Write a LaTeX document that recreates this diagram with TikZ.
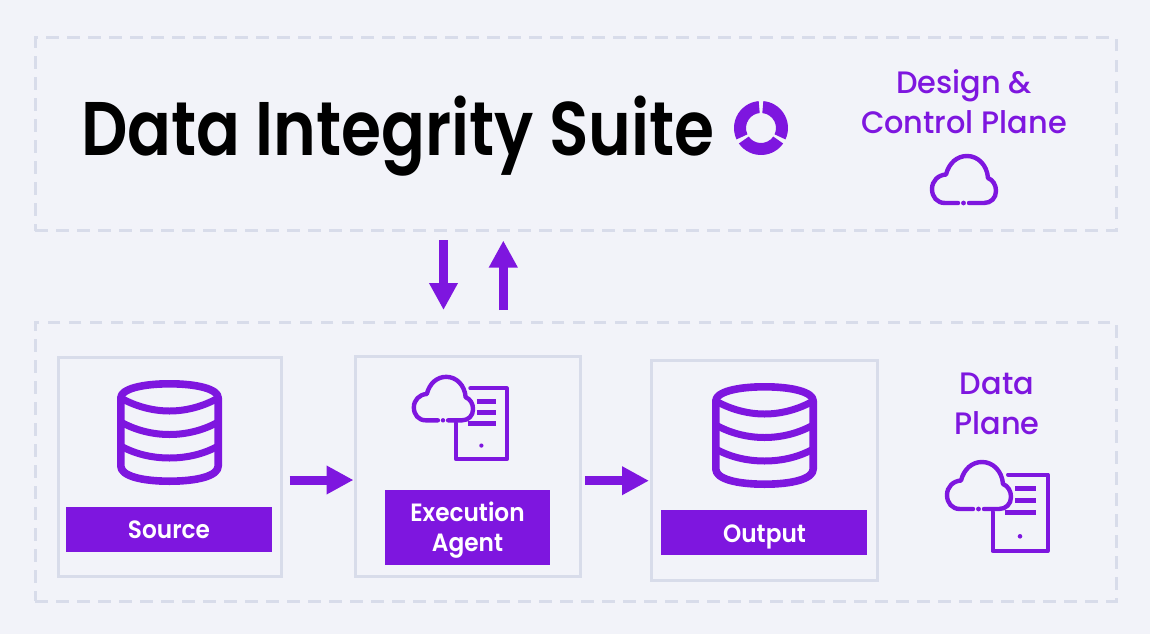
\documentclass[tikz,border=0pt]{standalone}
\usepackage{fontspec}
\setmainfont{Poppins}
\newfontfamily\titlefont[FakeStretch=0.852]{Poppins SemiBold}
\newfontfamily\planefont[FakeStretch=0.98]{Poppins Medium}
\newfontfamily\labelfont[FakeStretch=0.93]{Poppins SemiBold}
\usetikzlibrary{arrows.meta}
\definecolor{bgc}{HTML}{F2F3F9}
\definecolor{purp}{HTML}{7E16DF}
\definecolor{framec}{HTML}{D8DCEA}
\tikzset{
  plane/.style={draw=framec,line width=3pt,dash pattern=on 12.7pt off 8.3pt,inner sep=0pt,anchor=north west},
  card/.style={draw=framec,line width=3pt,inner sep=0pt,anchor=north west},
  tag/.style={fill=purp,inner sep=0pt,anchor=north west},
  tagtext/.style={text=white,align=center,font=\labelfont\fontsize{25}{30}\selectfont,inner sep=0pt},
  planetext/.style={text=purp,align=center,font=\planefont\fontsize{31}{40}\selectfont,inner sep=0pt},
  icon/.style={draw=purp,line width=4.4pt,line cap=round,line join=round},
  flow/.style={draw=purp,line width=9pt,-{Triangle[length=27pt,width=27pt]}},
  pics/cloudicon/.style={code={
    \draw[icon] (28,49) -- (15,49) .. controls (7,49) and (2,43) .. (2,35) .. controls (2,27) and (8,21) .. (16,20.5) .. controls (19,9) and (27,2) .. (37,2) .. controls (48,2) and (57,11) .. (58,24) .. controls (63,26) and (66,31) .. (66,37) .. controls (66,44) and (61,49) .. (54,49) -- (39,49);
    \fill[purp] (33.5,49) circle (2.4pt);
  }},
  pics/servericon/.style={code={
    \draw[icon,line width=4pt] (47.5,52) -- (47.5,91) -- (102.5,91) -- (102.5,14.5) -- (63,14.5);
    \draw[icon,line width=4.5pt,line cap=butt] (70,28.7) -- (90.5,28.7) (70,40.3) -- (90.5,40.3) (60,52.3) -- (90.5,52.3);
    \fill[purp] (75,76.3) circle (2.3pt);
  }},
  pics/dbicon/.style={code={
    \draw[icon,line width=7.6pt]
      (3.8,18) .. controls (3.8,9) and (25,3.8) .. (52.5,3.8) .. controls (80,3.8) and (101.2,9) .. (101.2,18)
      -- (101.2,86) .. controls (101.2,96) and (80,101.2) .. (52.5,101.2) .. controls (25,101.2) and (3.8,96) .. (3.8,86) -- cycle;
    \draw[icon,line width=7pt]
      (3.8,18) .. controls (18,26) and (35,31) .. (52.5,31) .. controls (70,31) and (87,26) .. (101.2,18)
      (3.8,42) .. controls (18,50) and (35,54.5) .. (52.5,54.5) .. controls (70,54.5) and (87,50) .. (101.2,42)
      (3.8,66) .. controls (18,74) and (35,78) .. (52.5,78) .. controls (70,78) and (87,74) .. (101.2,66);
  }},
}
\begin{document}
\begin{tikzpicture}[x=1pt,y=-1pt]
\useasboundingbox[fill=bgc] (0,0) rectangle (1150,634);
% planes
\node[plane,minimum width=1080.7pt,minimum height=193pt] (control) at (33.8,36) {};
\node[plane,minimum width=1080.7pt,minimum height=278.7pt] (dataplane) at (33.8,320.8) {};
% title
\node[inner sep=0pt,anchor=base west,font=\titlefont\fontsize{76}{90}\selectfont] (title) at (81,155) {Data Integrity Suite};
% logo
\begin{scope}[shift={(761,128)},y=1pt]
  \foreach \a/\b in {95/205,215/325,335/445}{
    \fill[purp] (\a:27pt) arc[start angle=\a,end angle=\b,radius=27pt] -- (\b:15pt) arc[start angle=\b,end angle=\a,radius=15pt] -- cycle;
  }
\end{scope}
\node[planetext] (designlabel) at (964,102) {Design \&\\Control Plane};
\pic at (930,154) {cloudicon};
% cards
\node[card,minimum width=223.3pt,minimum height=219pt] (source) at (56.7,356) {};
\node[card,minimum width=224.7pt,minimum height=219.7pt] (agent) at (354,355) {};
\node[card,minimum width=226pt,minimum height=219.7pt] (output) at (650,359) {};
\node[tag,minimum width=206pt,minimum height=45pt] (sourcetag) at (66,507) {};
\node[tag,minimum width=165pt,minimum height=75pt] (agenttag) at (385,490) {};
\node[tag,minimum width=206pt,minimum height=45pt] (outputtag) at (661,510) {};
\node[tagtext] (sourcetext) at (169,530) {Source};
\node[tagtext] (agenttext) at (467.5,530.5) {Execution\\Agent};
\node[tagtext] (outputtext) at (764.5,536.5) {Output};
\pic at (117,380) {dbicon};
\pic at (712,383) {dbicon};
\begin{scope}[shift={(412,375)},scale=0.925,transform shape]
  \pic {cloudicon};
  \pic {servericon};
\end{scope}
\node[planetext] (datalabel) at (997,404) {Data\\Plane};
\pic at (945,460) {cloudicon};
\pic at (945,460) {servericon};
% arrows
\coordinate (downstart) at (443.5,240);
\coordinate (downend) at (443.5,310);
\coordinate (upstart) at (503.3,310);
\coordinate (upend) at (503.3,240.5);
\coordinate (s1) at (289.5,480);
\coordinate (e1) at (353.5,480);
\coordinate (s2) at (585.3,480.7);
\coordinate (e2) at (649,480.7);
\draw[flow] (downstart) -- (downend);
\draw[flow] (upstart) -- (upend);
\draw[flow] (s1) -- (e1);
\draw[flow] (s2) -- (e2);
\end{tikzpicture}
\end{document}
